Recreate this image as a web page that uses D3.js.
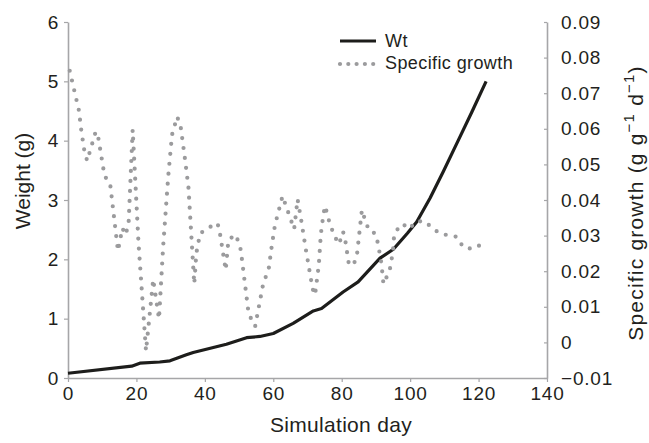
<!DOCTYPE html>
<html>
<head>
<meta charset="utf-8">
<script src="https://cdn.jsdelivr.net/npm/d3@7"></script>
<style>
  html, body { margin: 0; padding: 0; background: #fff; }
  svg { display: block; font-family: 'Liberation Sans', Arial, sans-serif; }
</style>
</head>
<body>
<div id="chart"></div>
<script>

// ━━━━━━━━━━━━━━━━━━━━━━━━━━━━━━━━━━━━━━━━━━━━━━━━━━━━━━━━━━━━━━━━━━━━━━━━━━━━━━
// Data ///////////////////////////////////////////////
// ━━━━━━━━━━━━━━━━━━━━━━━━━━━━━━━━━━━━━━━━━━━━━━━━━━━━━━━━━━━━━━━━━━━━━━━━━━━━━━

const dayTicks    = [0, 20, 40, 60, 80, 100, 120, 140];
const weightTicks = [0, 1, 2, 3, 4, 5, 6];
const growthTicks = [-0.01, 0, 0.01, 0.02, 0.03, 0.04, 0.05, 0.06, 0.07, 0.08, 0.09];
const legendLabels = ['Wt', 'Specific growth'];

// Wt (g), left axis
const wtDays   = [0, 18.6, 21, 26.8, 29.8, 34.6, 36.6, 46.3, 52.2, 56.1, 60, 65.8, 71.7, 74.1, 80.4, 84.8, 91.2, 95.1, 99.2, 101.9, 105.8, 109.7, 114.1, 118, 122.2];
const wtValues = [0.08, 0.20, 0.25, 0.27, 0.29, 0.39, 0.43, 0.57, 0.68, 0.70, 0.75, 0.92, 1.13, 1.17, 1.45, 1.62, 2.02, 2.17, 2.44, 2.63, 3.03, 3.48, 4.01, 4.48, 5.0];

// Specific growth (g g-1 d-1), right axis
const growthDays   = [0.5, 3.2, 3.9, 4.8, 5.6, 8.1, 8.8, 10.7, 12.3, 14.6, 15.9, 16.8, 17.7, 18.9, 20.6, 22.8,
                      24.9, 26.6, 27.8, 29.3, 30.4, 31.9, 32.9, 34.1, 35.2, 36.9, 37.5, 38.6, 41.0, 43.4, 44.1,
                      46.1, 46.9, 49.1, 50.5, 52.8, 54.7, 57.0, 58.7, 59.6, 60.5, 62.7, 66.1, 67.1, 68.1, 69.5,
                      71.5, 72.2, 73.3, 73.9, 74.7, 75.2, 75.9, 76.8, 77.8, 79.2, 80.4, 81.1, 82.0, 83.3, 84.4,
                      85.9, 87.0, 88.0, 89.8, 90.6, 91.6, 92.2, 93.3, 94.3, 95.1, 95.3, 96.6, 97.8, 99.7, 101.8,
                      104.3, 106.5, 108.7, 111.1, 113.5, 115.1, 117.0, 119.4, 122.2];
const growthValues = [0.0763, 0.0651, 0.0594, 0.0537, 0.0510, 0.0592, 0.0578, 0.0467, 0.0447, 0.0257, 0.0321, 0.0302, 0.0332, 0.0597, 0.0280, -0.0024,
                      0.0177, 0.0066, 0.0268, 0.0467, 0.0583, 0.0634, 0.0608, 0.0522, 0.0436, 0.0164, 0.0250, 0.0306, 0.0321, 0.0336, 0.0325,
                      0.0203, 0.0289, 0.0302, 0.0260, 0.0080, 0.0045, 0.0162, 0.0209, 0.0274, 0.0330, 0.0411, 0.0318, 0.0402, 0.0347, 0.0262,
                      0.0150, 0.0133, 0.0217, 0.0304, 0.0363, 0.0383, 0.0353, 0.0327, 0.0300, 0.0276, 0.0311, 0.0283, 0.0225, 0.0215, 0.0241,
                      0.0372, 0.0339, 0.0314, 0.0306, 0.0278, 0.0222, 0.0164, 0.0187, 0.0213, 0.0269, 0.0299, 0.0323, 0.0333, 0.0319, 0.0340,
                      0.0340, 0.0321, 0.0306, 0.0301, 0.0297, 0.0274, 0.0262, 0.0273, 0.0268];

// ━━━━━━━━━━━━━━━━━━━━━━━━━━━━━━━━━━━━━━━━━━━━━━━━━━━━━━━━━━━━━━━━━━━━━━━━━━━━━━
// SVG setup ////////////////////////////////////////////////////////////////////
// ━━━━━━━━━━━━━━━━━━━━━━━━━━━━━━━━━━━━━━━━━━━━━━━━━━━━━━━━━━━━━━━━━━━━━━━━━━━━━━

const width = 649, height = 443;
const margin = { top: 22, right: 102, bottom: 65, left: 68 };

const axisColor = '#a6a6a8';
const textColor = '#231f20';
const dotColor  = '#9b9b9d';

const svg = d3.select('#chart').append('svg')
  .attr('viewBox', [0, 0, width, height])
  .attr('width', width)
  .attr('height', height);

const x = d3.scaleLinear().domain([0, 140]).range([margin.left, width - margin.right]);
const yW = d3.scaleLinear().domain([0, 6]).range([height - margin.bottom, margin.top]);
const yG = d3.scaleLinear().domain([-0.01, 0.09]).range([height - margin.bottom, margin.top]);

const wt = wtDays.map((d, i) => ({ day: d, value: wtValues[i] }));
const growth = growthDays.map((d, i) => ({ day: d, value: growthValues[i] }));

// Axes ////////////////////////////////////////////////////////////////////////

function styleAxis(g) {
  g.select('.domain').attr('stroke', axisColor).attr('stroke-width', 1.6);
  g.selectAll('.tick line').attr('stroke', axisColor).attr('stroke-width', 1.2);
  g.selectAll('.tick text')
    .attr('fill', textColor)
    .attr('font-size', 19)
    .attr('letter-spacing', 0.8);
  g.attr('font-family', null);
}

svg.append('g')
  .attr('transform', `translate(0,${height - margin.bottom})`)
  .call(d3.axisBottom(x).tickValues(dayTicks).tickSize(4).tickSizeOuter(0).tickPadding(5).tickFormat(d3.format('d')))
  .call(styleAxis);

svg.append('g')
  .attr('transform', `translate(${margin.left},0)`)
  .call(d3.axisLeft(yW).tickValues(weightTicks).tickSize(4).tickSizeOuter(0).tickPadding(5).tickFormat(d3.format('d')))
  .call(styleAxis);

const fmtG = d => d === 0 ? '0' : d3.format('.2f')(d);
svg.append('g')
  .attr('transform', `translate(${width - margin.right},0)`)
  .call(d3.axisRight(yG).tickValues(growthTicks).tickSize(-3).tickSizeOuter(0).tickPadding(14).tickFormat(fmtG))
  .call(styleAxis);

// Axis titles /////////////////////////////////////////////////////////////////

svg.append('text')
  .attr('x', 341).attr('y', 432)
  .attr('text-anchor', 'middle')
  .attr('font-size', 21).attr('letter-spacing', 0.3).attr('fill', textColor)
  .text('Simulation day');

svg.append('text')
  .attr('transform', 'translate(30,181) rotate(-90)')
  .attr('text-anchor', 'middle')
  .attr('font-size', 21).attr('fill', textColor)
  .text('Weight (g)');

const rTitle = svg.append('text')
  .attr('transform', 'translate(643,203) rotate(-90)')
  .attr('text-anchor', 'middle')
  .attr('font-size', 21).attr('letter-spacing', 1.2).attr('fill', textColor);
rTitle.append('tspan').text('Specific growth (g g');
rTitle.append('tspan').attr('font-size', 15).attr('dy', -9).text('\u22121');
rTitle.append('tspan').attr('dy', 9).text(' d');
rTitle.append('tspan').attr('font-size', 15).attr('dy', -9).text('\u22121');
rTitle.append('tspan').attr('dy', 9).text(')');

// Series //////////////////////////////////////////////////////////////////////

const wtLine = d3.line().x(d => x(d.day)).y(d => yW(d.value));
const growthLine = d3.line().x(d => x(d.day)).y(d => yG(d.value));

svg.append('path')
  .datum(wt)
  .attr('d', wtLine)
  .attr('fill', 'none')
  .attr('stroke', '#1d1d1b')
  .attr('stroke-width', 3.2)
  .attr('stroke-linejoin', 'round');

svg.append('path')
  .datum(growth)
  .attr('d', growthLine)
  .attr('fill', 'none')
  .attr('stroke', dotColor)
  .attr('stroke-width', 4.2)
  .attr('stroke-linecap', 'round')
  .attr('stroke-dasharray', '0 10');

// Legend //////////////////////////////////////////////////////////////////////

const legend = svg.append('g').attr('id', 'legend');

legend.append('line')
  .attr('x1', 340).attr('x2', 376).attr('y1', 41).attr('y2', 41)
  .attr('stroke', '#1d1d1b').attr('stroke-width', 3.2);

legend.append('line')
  .attr('x1', 340).attr('x2', 374).attr('y1', 64).attr('y2', 64)
  .attr('stroke', dotColor).attr('stroke-width', 4.2)
  .attr('stroke-linecap', 'round').attr('stroke-dasharray', '0 8.3');

legend.selectAll('text.label')
  .data(legendLabels)
  .join('text')
  .attr('class', 'label')
  .attr('x', 385)
  .attr('y', (d, i) => 41 + i * 22)
  .attr('dy', '0.35em')
  .attr('font-size', 18)
  .attr('letter-spacing', 0.4)
  .attr('fill', textColor)
  .text(d => d);

</script>
</body>
</html>
